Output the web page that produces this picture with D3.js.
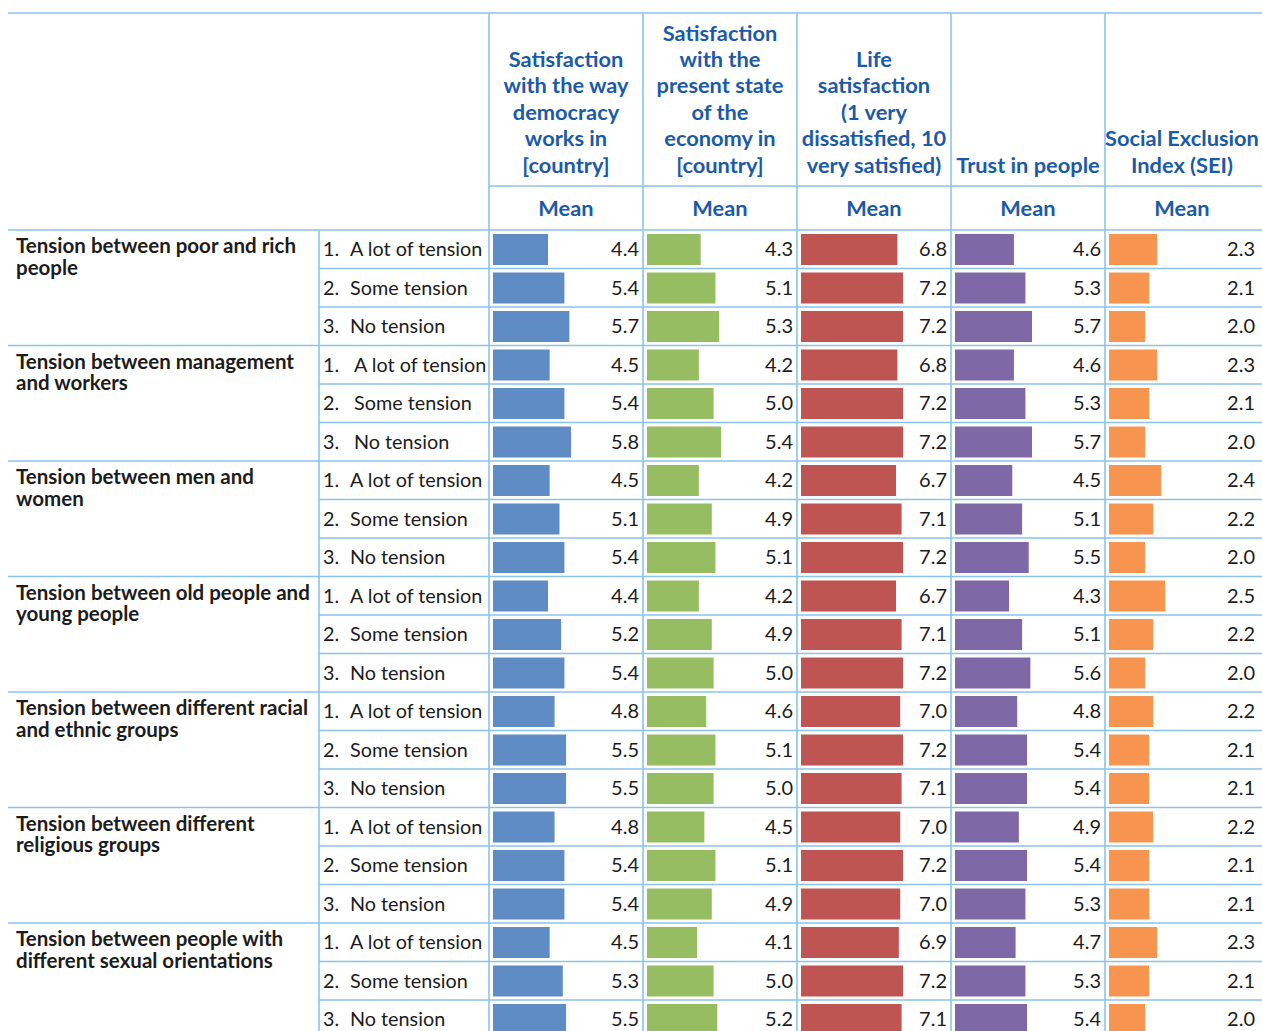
<!DOCTYPE html>
<html>
<head>
<meta charset="utf-8">
<script src="https://cdn.jsdelivr.net/npm/d3@7"></script>
<style>
  html, body { margin: 0; padding: 0; background: #fff; }
  svg { display: block; font-family: Lato, "Noto Sans", sans-serif; }
</style>
</head>
<body>
<svg id="chart" width="1262" height="1031"></svg>
<script>
// Tension categories (group rows) and the three answer levels within each
const groups = [
  "Tension between poor and rich\npeople",
  "Tension between management\nand workers",
  "Tension between men and\nwomen",
  "Tension between old people and\nyoung people",
  "Tension between different racial\nand ethnic groups",
  "Tension between different\nreligious groups",
  "Tension between people with\ndifferent sexual orientations"
];
const levels = ["A lot of tension", "Some tension", "No tension"];

// Outcome measures (column headers)
const measures = [
  "Satisfaction\nwith the way\ndemocracy\nworks in\n[country]",
  "Satisfaction\nwith the\npresent state\nof the\neconomy in\n[country]",
  "Life\nsatisfaction\n(1 very\ndissatisfied, 10\nvery satisfied)",
  "Trust in people",
  "Social Exclusion\nIndex (SEI)"
];
const statLabel = "Mean";

// Mean values, 3 levels per group, groups in order above
const democracy = [4.4, 5.4, 5.7, 4.5, 5.4, 5.8, 4.5, 5.1, 5.4, 4.4, 5.2, 5.4, 4.8, 5.5, 5.5, 4.8, 5.4, 5.4, 4.5, 5.3, 5.5];
const economy   = [4.3, 5.1, 5.3, 4.2, 5.0, 5.4, 4.2, 4.9, 5.1, 4.2, 4.9, 5.0, 4.6, 5.1, 5.0, 4.5, 5.1, 4.9, 4.1, 5.0, 5.2];
const life      = [6.8, 7.2, 7.2, 6.8, 7.2, 7.2, 6.7, 7.1, 7.2, 6.7, 7.1, 7.2, 7.0, 7.2, 7.1, 7.0, 7.2, 7.0, 6.9, 7.2, 7.1];
const trust     = [4.6, 5.3, 5.7, 4.6, 5.3, 5.7, 4.5, 5.1, 5.5, 4.3, 5.1, 5.6, 4.8, 5.4, 5.4, 4.9, 5.4, 5.3, 4.7, 5.3, 5.4];
const sei       = [2.3, 2.1, 2.0, 2.3, 2.1, 2.0, 2.4, 2.2, 2.0, 2.5, 2.2, 2.0, 2.2, 2.1, 2.1, 2.2, 2.1, 2.1, 2.3, 2.1, 2.0];

const series = [democracy, economy, life, trust, sei];
const barColors = ["#5f8cc4", "#97bd63", "#bf5553", "#7e68a6", "#f79550"];
// data-bar length range per column (shortest bar at column min, longest at max)
const barRanges = [[55, 78], [50, 74], [95, 102], [54, 77], [36, 56]];

const svg = d3.select("#chart");
const gridColor = "#8cc3ec";
const headColor = "#1a5aa8";
const textColor = "#1c1c1c";

const left = 8, right = 1262;
const labelDiv = 319;
const tableTop = 13, headBottom = 186, bodyTop = 230, bodyBottom = 1038.5;

const rowIds = d3.range(groups.length * levels.length);
const y = d3.scaleBand().domain(rowIds).range([bodyTop, bodyBottom]);
const x = d3.scaleBand().domain(d3.range(measures.length)).range([489, 1259]);

const widthScales = series.map((vals, i) =>
  d3.scaleLinear().domain(d3.extent(vals)).range(barRanges[i]));

// ---- bars and values
series.forEach((vals, ci) => {
  const col = svg.append("g");
  col.selectAll("rect").data(vals).join("rect")
    .attr("x", x(ci) + 4)
    .attr("y", (d, i) => y(i) + 4)
    .attr("width", d => widthScales[ci](d))
    .attr("height", y.bandwidth() - 7.5)
    .attr("fill", barColors[ci]);
  col.selectAll("text").data(vals).join("text")
    .attr("x", x(ci) + x.bandwidth() - 4)
    .attr("y", (d, i) => y(i) + y.bandwidth() / 2)
    .attr("dy", "0.35em")
    .attr("text-anchor", "end")
    .attr("font-size", 20)
    .attr("fill", textColor)
    .text(d => d.toFixed(1));
});

// ---- grid lines
const grid = svg.append("g").attr("stroke", gridColor).attr("stroke-width", 1.6);
grid.append("line").attr("x1", left).attr("x2", right).attr("y1", tableTop).attr("y2", tableTop);
grid.append("line").attr("x1", x(0)).attr("x2", right).attr("y1", headBottom).attr("y2", headBottom);
grid.append("line").attr("x1", left).attr("x2", right).attr("y1", bodyTop).attr("y2", bodyTop);
rowIds.slice(1).forEach(r => {
  const isGroup = r % levels.length === 0;
  grid.append("line")
    .attr("x1", isGroup ? left : labelDiv).attr("x2", right)
    .attr("y1", y(r)).attr("y2", y(r));
});
grid.append("line").attr("x1", labelDiv).attr("x2", labelDiv).attr("y1", bodyTop).attr("y2", bodyBottom);
d3.range(measures.length).forEach(ci => {
  grid.append("line").attr("x1", x(ci)).attr("x2", x(ci)).attr("y1", tableTop).attr("y2", bodyBottom);
});

// ---- column headers
const lineH = 26.4;
measures.forEach((m, ci) => {
  const lines = m.split("\n");
  const t = svg.append("text")
    .attr("text-anchor", "middle")
    .attr("font-size", 21.8)
    .attr("font-weight", "bold")
    .attr("fill", headColor);
  lines.forEach((ln, li) => {
    t.append("tspan")
      .attr("x", x(ci) + x.bandwidth() / 2)
      .attr("y", 165 - (lines.length - 1 - li) * lineH)
      .attr("dy", "0.35em")
      .text(ln);
  });
  svg.append("text")
    .attr("x", x(ci) + x.bandwidth() / 2)
    .attr("y", (headBottom + bodyTop) / 2)
    .attr("dy", "0.35em")
    .attr("text-anchor", "middle")
    .attr("font-size", 21.8)
    .attr("font-weight", "bold")
    .attr("fill", headColor)
    .text(statLabel);
});

// ---- group labels
groups.forEach((gname, gi) => {
  const t = svg.append("text")
    .attr("font-size", 20.5)
    .attr("font-weight", "bold")
    .attr("fill", textColor);
  gname.split("\n").forEach((ln, li) => {
    t.append("tspan")
      .attr("x", 16)
      .attr("y", y(gi * levels.length) + 16 + li * 21.5)
      .attr("dy", "0.35em")
      .text(ln);
  });
});

// ---- level labels
rowIds.forEach(r => {
  const gi = Math.floor(r / levels.length);
  const li = r % levels.length;
  const indent = gi === 1 ? 4 : 0;
  const cy = y(r) + y.bandwidth() / 2;
  svg.append("text")
    .attr("x", 323).attr("y", cy).attr("dy", "0.35em")
    .attr("font-size", 19.8).attr("fill", textColor)
    .text((li + 1) + ".");
  svg.append("text")
    .attr("x", 350 + indent).attr("y", cy).attr("dy", "0.35em")
    .attr("font-size", 19.8).attr("fill", textColor)
    .text(levels[li]);
});
</script>
</body>
</html>
